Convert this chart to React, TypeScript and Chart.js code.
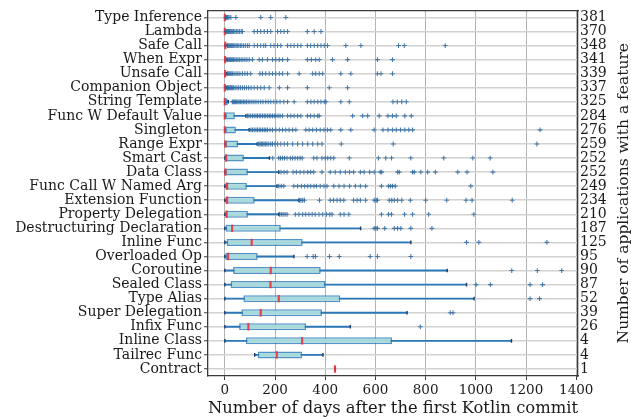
import React, { useEffect, useRef } from 'react';
import { Chart, registerables } from 'chart.js';

Chart.register(...registerables);

const features = [
  'Type Inference', 'Lambda', 'Safe Call', 'When Expr', 'Unsafe Call', 'Companion Object',
  'String Template', 'Func W Default Value', 'Singleton', 'Range Expr', 'Smart Cast', 'Data Class',
  'Func Call W Named Arg', 'Extension Function', 'Property Delegation', 'Destructuring Declaration',
  'Inline Func', 'Overloaded Op', 'Coroutine', 'Sealed Class', 'Type Alias', 'Super Delegation',
  'Infix Func', 'Inline Class', 'Tailrec Func', 'Contract',
];

const counts = [381, 370, 348, 341, 339, 337, 325, 284, 276, 259, 252, 252, 249, 234, 210, 187, 125, 95, 90, 87, 52, 39, 26, 4, 4, 1];

const whiskerLow = [0, 0, 0, 0, 0, 0, 0, 0, 0, 0, 0, 0, 0, 0, 0, 0, 0, 0, 0, 0, 0, 0, 0, 0, 119, 439];
const q1 = [0, 0, 0, 0, 0, 0, 0, 0, 0, 0, 0, 0, 0, 0, 0, 3, 7, 0, 33, 23, 74, 66, 57, 84, 131, 439];
const median = [0, 0, 2, 1, 1, 0, 0, 0, 0, 2, 5, 2, 9, 9, 7, 29, 107, 13, 183, 182, 215, 143, 94, 308, 207, 439];
const q3 = [1, 2, 4, 4, 4, 3, 12, 40, 44, 53, 76, 92, 88, 119, 92, 223, 310, 131, 382, 401, 460, 387, 324, 666, 308, 439];
const whiskerHigh = [2, 5, 9, 8, 8, 6, 14, 84, 97, 129, 178, 215, 208, 295, 215, 541, 741, 275, 886, 963, 993, 726, 500, 1142, 391, 439];

const outliers: number[][] = [
  [4, 6, 8, 10, 13, 17, 24, 44, 143, 183, 243],
  [6, 9, 12, 15, 18, 22, 26, 30, 35, 40, 46, 52, 58, 65, 70, 117, 130, 143, 157, 170, 183, 210, 223, 236, 250, 329, 356, 383],
  [11, 14, 18, 22, 26, 30, 35, 40, 45, 50, 56, 62, 68, 75, 82, 90, 97, 117, 130, 143, 155, 163, 183, 196, 210, 223, 250, 263, 276, 290, 303, 329, 342, 356, 370, 383, 396, 409, 482, 542, 692, 715, 878],
  [10, 14, 18, 22, 26, 30, 35, 40, 46, 52, 58, 65, 72, 80, 88, 97, 110, 137, 150, 170, 190, 203, 217, 230, 250, 329, 345, 362, 376, 429, 489, 608, 668],
  [10, 13, 17, 21, 25, 30, 37, 45, 52, 60, 70, 80, 90, 103, 140, 150, 163, 177, 190, 203, 217, 230, 250, 296, 350, 362, 376, 390, 462, 502, 608, 622, 668],
  [8, 11, 14, 18, 22, 26, 30, 35, 41, 48, 55, 62, 70, 78, 86, 95, 105, 117, 130, 143, 157, 177, 217, 250, 329, 416, 489],
  [30, 34, 38, 42, 47, 52, 57, 62, 68, 74, 80, 86, 93, 100, 108, 116, 124, 133, 143, 152, 163, 173, 183, 195, 207, 220, 235, 250, 276, 329, 343, 356, 370, 383, 396, 403, 462, 496, 670, 687, 705, 723],
  [90, 96, 103, 110, 117, 124, 130, 137, 143, 150, 157, 163, 170, 177, 183, 190, 197, 203, 212, 220, 230, 250, 263, 276, 290, 303, 329, 342, 356, 370, 376, 509, 549, 569, 615, 650, 668, 683, 717, 743],
  [104, 110, 117, 124, 130, 137, 143, 150, 157, 163, 170, 180, 190, 203, 217, 230, 243, 256, 270, 283, 323, 336, 350, 365, 380, 395, 409, 422, 462, 502, 595, 630, 650, 668, 683, 700, 717, 733, 748, 1256],
  [135, 140, 145, 150, 156, 162, 168, 175, 183, 190, 200, 210, 223, 237, 250, 270, 290, 310, 330, 350, 370, 387, 464, 671, 1243],
  [191, 215, 222, 230, 238, 248, 261, 270, 280, 290, 300, 308, 354, 367, 387, 400, 410, 422, 434, 496, 612, 641, 664, 741, 872, 988, 1057],
  [224, 236, 248, 272, 285, 300, 315, 330, 342, 354, 387, 420, 440, 460, 480, 497, 513, 540, 555, 577, 595, 619, 625, 688, 695, 748, 755, 781, 808, 839, 928, 965, 1068],
  [215, 225, 235, 275, 290, 305, 318, 330, 342, 355, 365, 380, 395, 407, 434, 455, 475, 497, 520, 540, 561, 624, 652, 660, 668, 679, 980],
  [297, 303, 310, 317, 377, 420, 433, 447, 460, 474, 513, 527, 540, 561, 595, 603, 608, 655, 665, 675, 688, 705, 739, 800, 884, 961, 985, 1145],
  [218, 225, 232, 240, 248, 281, 295, 310, 322, 335, 348, 360, 375, 390, 405, 418, 427, 460, 475, 494, 624, 652, 664, 716, 748, 812, 992],
  [595, 602, 608, 637, 675, 688, 701, 741, 825],
  [963, 1012, 1283],
  [328, 352, 361, 417, 456, 579, 608, 741],
  [1143, 1245, 1342],
  [1001, 1058, 1216, 1266],
  [1216, 1254],
  [898, 909],
  [779],
  [],
  [],
  [],
];

const xTicks = [0, 200, 400, 600, 800, 1000, 1200, 1400];
const xMin = -67;
const xMax = 1407;
const xTitle = 'Number of days after the first Kotlin commit';
const yRightTitle = 'Number of applications with a feature';

const FONT = "'DejaVu Serif', serif";
const TEXT = '#1a1a1a';
const SPINE = '#3a3a3a';

export default function App() {
  const ref = useRef<HTMLCanvasElement | null>(null);

  useEffect(() => {
    const canvas = ref.current;
    if (!canvas) return;

    const idx = features.map((_, i) => i);
    const yMin = -0.5;
    const yMax = features.length - 0.5;

    const rightTitlePlugin = {
      id: 'rightTitle',
      afterDraw(chart: any) {
        const { ctx, chartArea } = chart;
        ctx.save();
        ctx.translate(624, (chartArea.top + chartArea.bottom) / 2);
        ctx.rotate(-Math.PI / 2);
        ctx.font = `15.5px ${FONT}`;
        ctx.fillStyle = TEXT;
        ctx.textAlign = 'center';
        ctx.textBaseline = 'middle';
        ctx.fillText(yRightTitle, 0, 0);
        ctx.restore();
      },
    };

    const chart = new Chart(canvas, {
      type: 'bar',
      data: {
        datasets: [
          {
            type: 'scatter',
            data: outliers.flatMap((arr, i) => arr.map((v) => ({ x: v, y: i }))),
            pointStyle: 'cross',
            pointRadius: 2.4,
            borderColor: 'rgba(45,105,160,0.85)',
            backgroundColor: 'rgba(45,105,160,0.85)',
            borderWidth: 1.1,
            order: 0,
          } as any,
          {
            type: 'scatter',
            data: idx.map((i) => ({ x: median[i], y: i })),
            pointStyle: 'line',
            rotation: 90,
            pointRadius: 3.7,
            borderColor: 'rgba(232,52,62,0.9)',
            borderWidth: 2.2,
            order: 1,
          } as any,
          {
            type: 'scatter',
            data: idx.flatMap((i) => [
              { x: whiskerLow[i], y: i },
              { x: whiskerHigh[i], y: i },
            ]),
            pointStyle: 'line',
            rotation: 90,
            pointRadius: 1.8,
            borderColor: '#1c3a66',
            borderWidth: 1.4,
            order: 2,
          } as any,
          {
            type: 'bar',
            indexAxis: 'y',
            data: idx.map((i) => ({ x: [q1[i], q3[i]], y: i })),
            grouped: false,
            categoryPercentage: 1,
            barPercentage: 0.5,
            backgroundColor: '#a8d9db',
            borderColor: 'rgba(40,120,185,0.8)',
            borderWidth: 1.5,
            borderSkipped: false,
            order: 3,
          } as any,
          {
            type: 'bar',
            indexAxis: 'y',
            data: idx.map((i) => ({ x: [whiskerLow[i], whiskerHigh[i]], y: i })),
            grouped: false,
            categoryPercentage: 1,
            barPercentage: 1,
            maxBarThickness: 1.2,
            backgroundColor: '#2a78b8',
            borderWidth: 0,
            order: 4,
          } as any,
        ],
      },
      options: {
        responsive: false,
        animation: false,
        devicePixelRatio: 1,
        layout: { padding: 0 },
        plugins: {
          legend: { display: false },
          tooltip: { enabled: false },
        },
        events: [],
        scales: {
          x: {
            type: 'linear',
            position: 'bottom',
            min: xMin,
            max: xMax,
            offset: false,
            afterBuildTicks: (s: any) => {
              s.ticks = xTicks.map((v) => ({ value: v }));
            },
            afterFit: (s: any) => {
              s.height = 43;
            },
            grid: {
              offset: false,
              color: '#b3b3b3',
              lineWidth: 1,
              tickLength: 4,
              tickColor: SPINE,
              tickWidth: 1,
            },
            border: { display: true, color: SPINE, width: 1.3 },
            ticks: {
              color: TEXT,
              font: { family: FONT, size: 13.5 },
              padding: 2,
              maxRotation: 0,
              autoSkip: false,
              callback: (v: any) => String(v),
            },
            title: {
              display: true,
              text: xTitle,
              color: TEXT,
              font: { family: FONT, size: 17.5 },
              padding: { top: 0, bottom: 0.5 },
            },
          },
          x2: {
            type: 'linear',
            position: 'top',
            min: xMin,
            max: xMax,
            offset: false,
            afterFit: (s: any) => {
              s.height = 7;
            },
            grid: { display: false, offset: false },
            ticks: { display: false },
            border: { display: true, color: SPINE, width: 1.3 },
          },
          y: {
            type: 'linear',
            position: 'left',
            min: yMin,
            max: yMax,
            reverse: true,
            offset: false,
            beginAtZero: false,
            afterBuildTicks: (s: any) => {
              s.ticks = idx.map((v) => ({ value: v }));
            },
            afterFit: (s: any) => {
              s.width = 208;
            },
            grid: {
              offset: false,
              color: '#d2d2d2',
              lineWidth: 1.5,
              tickLength: 4,
              tickColor: SPINE,
              tickWidth: 1,
            },
            border: { display: true, color: SPINE, width: 1.3 },
            ticks: {
              color: TEXT,
              font: { family: FONT, size: 14 },
              padding: 2,
              autoSkip: false,
              callback: (v: any) => features[Math.round(Number(v))] ?? '',
            },
          },
          y2: {
            type: 'linear',
            position: 'right',
            min: yMin,
            max: yMax,
            reverse: true,
            offset: false,
            beginAtZero: false,
            afterBuildTicks: (s: any) => {
              s.ticks = idx.map((v) => ({ value: v }));
            },
            afterFit: (s: any) => {
              s.width = 53;
            },
            grid: { display: false, offset: false, drawTicks: false },
            border: { display: true, color: SPINE, width: 1.3 },
            ticks: {
              color: TEXT,
              font: { family: FONT, size: 14 },
              padding: 2,
              autoSkip: false,
              callback: (v: any) => String(counts[Math.round(Number(v))] ?? ''),
            },
          },
        },
      } as any,
      plugins: [rightTitlePlugin],
    });

    return () => chart.destroy();
  }, []);

  return (
    <div style={{ position: 'absolute', left: 0, top: 0, width: 631, height: 419, background: '#fff' }}>
      <canvas ref={ref} width={631} height={419} style={{ width: 631, height: 419, display: 'block' }} />
    </div>
  );
}
